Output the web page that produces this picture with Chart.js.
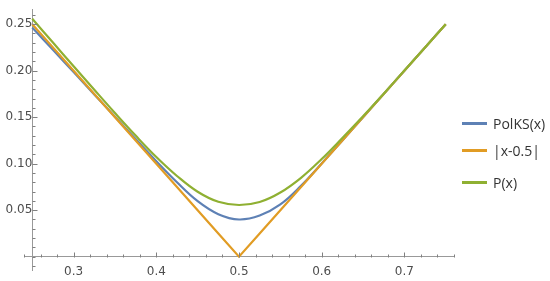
<!DOCTYPE html>
<html>
<head>
<meta charset="utf-8">
<script src="https://cdn.jsdelivr.net/npm/chart.js@4/dist/chart.umd.min.js"></script>
<style>
  html, body { margin: 0; padding: 0; background: #fff; }
  #wrap { position: relative; width: 550px; height: 281px; }
  #legend { position: absolute; left: 0; top: 0; }
  .row { position: absolute; left: 462px; height: 20px; display: flex; align-items: center; }
  .swatch { width: 25px; height: 3px; margin-right: 6px; }
  .label { font: 14px "Open Sans", sans-serif; color: #333; white-space: nowrap; }
</style>
</head>
<body>
<div id="wrap">
  <canvas id="chart" width="550" height="281"></canvas>
  <div id="legend"></div>
</div>
<script>
// values
const xs = [0.25, 0.275, 0.30, 0.325, 0.35, 0.375, 0.40, 0.425, 0.45, 0.475, 0.50,
            0.525, 0.55, 0.575, 0.60, 0.625, 0.65, 0.675, 0.70, 0.725, 0.75];
const polKS = [0.2464, 0.2224, 0.1985, 0.1745, 0.1505, 0.1265, 0.1027, 0.0800, 0.0597, 0.0457, 0.0400,
               0.0442, 0.0562, 0.0762, 0.1002, 0.1250, 0.1500, 0.1750, 0.2000, 0.2250, 0.2500];
const absDev = [0.25, 0.225, 0.20, 0.175, 0.15, 0.125, 0.10, 0.075, 0.05, 0.025, 0.0,
                0.025, 0.05, 0.075, 0.10, 0.125, 0.15, 0.175, 0.20, 0.225, 0.25];
const pFit = [0.2558, 0.2302, 0.2048, 0.1795, 0.1545, 0.1302, 0.1072, 0.0868, 0.0698, 0.0590, 0.0556,
              0.0588, 0.0690, 0.0848, 0.1050, 0.1276, 0.1510, 0.1753, 0.2001, 0.2250, 0.2500];

const seriesNames = ['PolKS(x)', '|x-0.5|', 'P(x)'];
const seriesColors = ['#5e81b5', '#e19c24', '#8fb032'];
const xTicks = [0.3, 0.4, 0.5, 0.6, 0.7];
const yTicks = [0.05, 0.10, 0.15, 0.20, 0.25];

const axisColor = '#999';
const tickColor = '#808080';
const labelColor = '#4d4d4d';

const toPoints = (ys) => xs.map((x, i) => ({ x, y: ys[i] }));

// Mathematica-style inward tick marks (major + minor)
const tickMarks = {
  id: 'tickMarks',
  afterDraw(chart) {
    const { ctx, scales: { x, y } } = chart;
    const x0 = Math.round(x.getPixelForValue(0.25)) + 0.5;
    const y0 = Math.round(y.getPixelForValue(0)) + 0.5;
    ctx.save();
    ctx.strokeStyle = tickColor;
    ctx.lineWidth = 1;
    for (let i = 0; i <= 26; i++) {
      const v = 0.24 + i * 0.02;
      const major = xTicks.some(t => Math.abs(t - v) < 1e-6);
      const px = Math.round(x.getPixelForValue(v)) + 0.5;
      ctx.beginPath();
      ctx.moveTo(px, y0);
      ctx.lineTo(px, y0 - (major ? 5 : 3));
      ctx.stroke();
    }
    for (let i = -1; i <= 26; i++) {
      const v = i * 0.01;
      const major = yTicks.some(t => Math.abs(t - v) < 1e-6);
      const py = Math.round(y.getPixelForValue(v)) + 0.5;
      ctx.beginPath();
      ctx.moveTo(x0, py);
      ctx.lineTo(x0 + (major ? 5 : 3), py);
      ctx.stroke();
    }
    ctx.restore();
  }
};

const datasets = [
  { label: seriesNames[2], data: toPoints(pFit), borderColor: seriesColors[2], order: 0, tension: 0.4 },
  { label: seriesNames[1], data: toPoints(absDev), borderColor: seriesColors[1], order: 1, tension: 0 },
  { label: seriesNames[0], data: toPoints(polKS), borderColor: seriesColors[0], order: 2, tension: 0.4 }
].map(d => Object.assign({ borderWidth: 2.2, pointRadius: 0, fill: false }, d));

new Chart(document.getElementById('chart'), {
  type: 'line',
  data: { datasets },
  plugins: [tickMarks],
  options: {
    responsive: false,
    animation: false,
    layout: { padding: { left: 24, right: 96, top: 5, bottom: 11 } },
    plugins: { legend: { display: false }, tooltip: { enabled: false } },
    scales: {
      x: {
        type: 'linear',
        min: 0.24,
        max: 0.76,
        position: { y: 0 },
        grid: { display: false, drawTicks: false },
        border: { display: true, color: axisColor, width: 1 },
        afterBuildTicks: s => { s.ticks = xTicks.map(value => ({ value })); },
        ticks: {
          padding: 8,
          color: labelColor,
          font: { family: 'DejaVu Sans', size: 12 },
          callback: v => v.toFixed(1)
        }
      },
      y: {
        type: 'linear',
        min: -0.0143,
        max: 0.2661,
        position: { x: 0.25 },
        grid: { display: false, drawTicks: false },
        border: { display: true, color: axisColor, width: 1 },
        afterBuildTicks: s => { s.ticks = yTicks.map(value => ({ value })); },
        ticks: {
          padding: 2,
          color: labelColor,
          font: { family: 'DejaVu Sans', size: 12 },
          callback: v => v.toFixed(2)
        }
      }
    }
  }
});

// legend on the right
const legendRows = [123.5, 150, 182];
const legend = document.getElementById('legend');
seriesNames.forEach((name, i) => {
  const row = document.createElement('div');
  row.className = 'row';
  row.style.top = (legendRows[i] - 10) + 'px';
  row.innerHTML = `<span class="swatch" style="background:${seriesColors[i]}"></span><span class="label">${name}</span>`;
  legend.appendChild(row);
});
</script>
</body>
</html>
